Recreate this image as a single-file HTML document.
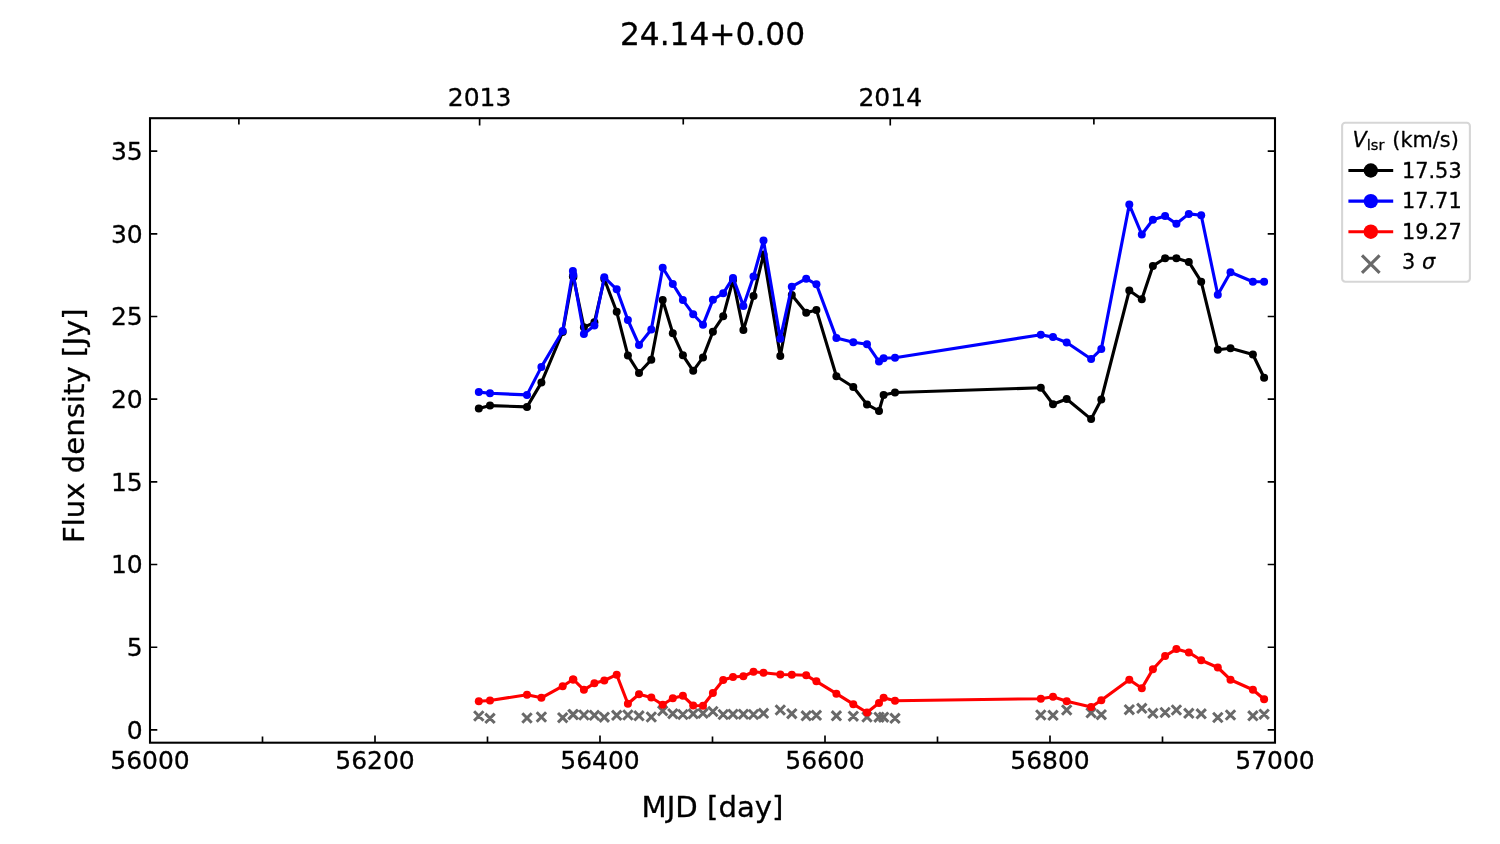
<!DOCTYPE html>
<html lang="en"><head><meta charset="utf-8"><title>24.14+0.00</title>
<style>html,body{margin:0;padding:0;background:#fff}body{width:1500px;height:844px;overflow:hidden}svg{display:block}text{font-family:"DejaVu Sans","Liberation Sans",sans-serif;fill:#000;stroke:#000;stroke-width:0.3px;stroke-linejoin:round}</style>
</head><body>
<svg width="1500" height="844" viewBox="0 0 1500 844">
<rect x="0" y="0" width="1500" height="844" fill="#ffffff"/>
<path d="M474.1 711.3L483.5 720.7M474.1 720.7L483.5 711.3M485.3 713.6L494.7 723.0M485.3 723.0L494.7 713.6M522.3 713.3L531.7 722.7M522.3 722.7L531.7 713.3M536.7 712.3L546.1 721.7M536.7 721.7L546.1 712.3M558.0 713.0L567.4 722.4M558.0 722.4L567.4 713.0M568.2 709.8L577.6 719.2M568.2 719.2L577.6 709.8M568.7 709.8L578.1 719.2M568.7 719.2L578.1 709.8M579.2 710.3L588.6 719.7M579.2 719.7L588.6 710.3M589.7 710.6L599.1 720.0M589.7 720.0L599.1 710.6M599.6 712.5L609.0 721.9M599.6 721.9L609.0 712.5M612.0 710.6L621.4 720.0M612.0 720.0L621.4 710.6M623.2 710.3L632.6 719.7M623.2 719.7L632.6 710.3M634.3 711.1L643.7 720.5M634.3 720.5L643.7 711.1M646.6 712.3L656.0 721.7M646.6 721.7L656.0 712.3M658.0 706.1L667.4 715.5M658.0 715.5L667.4 706.1M668.1 709.0L677.5 718.4M668.1 718.4L677.5 709.0M678.2 709.8L687.6 719.2M678.2 719.2L687.6 709.8M688.5 709.1L697.9 718.5M688.5 718.5L697.9 709.1M698.3 708.6L707.7 718.0M698.3 718.0L707.7 708.6M708.2 706.8L717.6 716.2M708.2 716.2L717.6 706.8M718.5 709.8L727.9 719.2M718.5 719.2L727.9 709.8M728.3 709.5L737.7 718.9M728.3 718.9L737.7 709.5M738.7 709.5L748.1 718.9M738.7 718.9L748.1 709.5M748.8 709.8L758.2 719.2M748.8 719.2L758.2 709.8M758.8 708.6L768.2 718.0M758.8 718.0L768.2 708.6M775.6 705.3L785.0 714.7M775.6 714.7L785.0 705.3M787.1 709.0L796.5 718.4M787.1 718.4L796.5 709.0M801.5 711.1L810.9 720.5M801.5 720.5L810.9 711.1M811.7 710.6L821.1 720.0M811.7 720.0L821.1 710.6M831.7 711.1L841.1 720.5M831.7 720.5L841.1 711.1M848.6 711.5L858.0 720.9M848.6 720.9L858.0 711.5M862.3 712.3L871.7 721.7M862.3 721.7L871.7 712.3M874.3 712.5L883.7 721.9M874.3 721.9L883.7 712.5M878.9 712.5L888.3 721.9M878.9 721.9L888.3 712.5M890.3 713.6L899.7 723.0M890.3 723.0L899.7 713.6M1036.1 710.3L1045.5 719.7M1036.1 719.7L1045.5 710.3M1048.3 710.6L1057.7 720.0M1048.3 720.0L1057.7 710.6M1062.0 705.3L1071.4 714.7M1062.0 714.7L1071.4 705.3M1086.4 708.1L1095.8 717.5M1086.4 717.5L1095.8 708.1M1096.6 710.0L1106.0 719.4M1096.6 719.4L1106.0 710.0M1124.6 705.0L1134.0 714.4M1124.6 714.4L1134.0 705.0M1137.1 703.6L1146.5 713.0M1137.1 713.0L1146.5 703.6M1148.2 708.6L1157.6 718.0M1148.2 718.0L1157.6 708.6M1160.4 707.8L1169.8 717.2M1160.4 717.2L1169.8 707.8M1171.7 705.3L1181.1 714.7M1171.7 714.7L1181.1 705.3M1184.1 708.6L1193.5 718.0M1184.1 718.0L1193.5 708.6M1196.5 709.1L1205.9 718.5M1196.5 718.5L1205.9 709.1M1213.1 712.8L1222.5 722.2M1213.1 722.2L1222.5 712.8M1225.8 710.3L1235.2 719.7M1225.8 719.7L1235.2 710.3M1248.2 711.1L1257.6 720.5M1248.2 720.5L1257.6 711.1M1259.4 709.5L1268.8 718.9M1259.4 718.9L1268.8 709.5" fill="none" stroke="#696969" stroke-width="3.0"/>
<g fill="#000000" stroke="#000000">
<polyline points="478.8,408.5 490.0,405.6 527.0,406.9 541.4,382.6 562.7,332.0 572.9,276.3 573.4,276.9 583.9,327.3 594.4,322.3 604.3,279.0 616.7,311.8 627.9,355.4 639.0,373.0 651.3,359.8 662.7,300.0 672.8,333.2 682.9,355.3 693.2,370.8 703.0,357.4 712.9,331.7 723.2,316.3 733.0,280.0 743.4,330.1 753.5,296.0 763.5,254.5 780.3,356.0 791.8,295.0 806.2,312.7 816.4,309.9 836.4,376.2 853.3,387.0 867.0,404.4 879.0,411.0 883.6,395.1 895.0,392.5 1040.8,387.8 1053.0,404.3 1066.7,399.0 1091.1,419.1 1101.3,399.5 1129.3,290.5 1141.8,299.3 1152.9,265.9 1165.1,258.2 1176.4,258.2 1188.8,261.9 1201.2,281.7 1217.8,349.7 1230.5,348.3 1252.9,354.5 1264.1,377.7" fill="none" stroke-width="3.125" stroke-linejoin="round" stroke-linecap="butt"/>
<g stroke="none"><circle cx="478.8" cy="408.5" r="4.0"/><circle cx="490.0" cy="405.6" r="4.0"/><circle cx="527.0" cy="406.9" r="4.0"/><circle cx="541.4" cy="382.6" r="4.0"/><circle cx="562.7" cy="332.0" r="4.0"/><circle cx="572.9" cy="276.3" r="4.0"/><circle cx="573.4" cy="276.9" r="4.0"/><circle cx="583.9" cy="327.3" r="4.0"/><circle cx="594.4" cy="322.3" r="4.0"/><circle cx="604.3" cy="279.0" r="4.0"/><circle cx="616.7" cy="311.8" r="4.0"/><circle cx="627.9" cy="355.4" r="4.0"/><circle cx="639.0" cy="373.0" r="4.0"/><circle cx="651.3" cy="359.8" r="4.0"/><circle cx="662.7" cy="300.0" r="4.0"/><circle cx="672.8" cy="333.2" r="4.0"/><circle cx="682.9" cy="355.3" r="4.0"/><circle cx="693.2" cy="370.8" r="4.0"/><circle cx="703.0" cy="357.4" r="4.0"/><circle cx="712.9" cy="331.7" r="4.0"/><circle cx="723.2" cy="316.3" r="4.0"/><circle cx="733.0" cy="280.0" r="4.0"/><circle cx="743.4" cy="330.1" r="4.0"/><circle cx="753.5" cy="296.0" r="4.0"/><circle cx="763.5" cy="254.5" r="4.0"/><circle cx="780.3" cy="356.0" r="4.0"/><circle cx="791.8" cy="295.0" r="4.0"/><circle cx="806.2" cy="312.7" r="4.0"/><circle cx="816.4" cy="309.9" r="4.0"/><circle cx="836.4" cy="376.2" r="4.0"/><circle cx="853.3" cy="387.0" r="4.0"/><circle cx="867.0" cy="404.4" r="4.0"/><circle cx="879.0" cy="411.0" r="4.0"/><circle cx="883.6" cy="395.1" r="4.0"/><circle cx="895.0" cy="392.5" r="4.0"/><circle cx="1040.8" cy="387.8" r="4.0"/><circle cx="1053.0" cy="404.3" r="4.0"/><circle cx="1066.7" cy="399.0" r="4.0"/><circle cx="1091.1" cy="419.1" r="4.0"/><circle cx="1101.3" cy="399.5" r="4.0"/><circle cx="1129.3" cy="290.5" r="4.0"/><circle cx="1141.8" cy="299.3" r="4.0"/><circle cx="1152.9" cy="265.9" r="4.0"/><circle cx="1165.1" cy="258.2" r="4.0"/><circle cx="1176.4" cy="258.2" r="4.0"/><circle cx="1188.8" cy="261.9" r="4.0"/><circle cx="1201.2" cy="281.7" r="4.0"/><circle cx="1217.8" cy="349.7" r="4.0"/><circle cx="1230.5" cy="348.3" r="4.0"/><circle cx="1252.9" cy="354.5" r="4.0"/><circle cx="1264.1" cy="377.7" r="4.0"/></g>
</g>
<g fill="#0000ff" stroke="#0000ff">
<polyline points="478.8,392.1 490.0,393.3 527.0,394.9 541.4,366.9 562.7,331.0 572.9,270.9 573.4,274.9 583.9,334.0 594.4,325.5 604.3,277.3 616.7,289.3 627.9,320.0 639.0,345.0 651.3,329.6 662.7,267.7 672.8,284.0 682.9,300.1 693.2,314.2 703.0,324.8 712.9,299.8 723.2,293.3 733.0,277.9 743.4,305.9 753.5,276.5 763.5,240.5 780.3,338.7 791.8,286.7 806.2,278.7 816.4,284.3 836.4,338.1 853.3,342.2 867.0,344.2 879.0,361.6 883.6,358.2 895.0,357.7 1040.8,334.7 1053.0,337.1 1066.7,342.5 1091.1,359.0 1101.3,349.1 1129.3,204.6 1141.8,234.5 1152.9,219.8 1165.1,216.1 1176.4,223.8 1188.8,213.9 1201.2,215.3 1217.8,294.7 1230.5,272.3 1252.9,281.7 1264.1,281.7" fill="none" stroke-width="3.125" stroke-linejoin="round" stroke-linecap="butt"/>
<g stroke="none"><circle cx="478.8" cy="392.1" r="4.0"/><circle cx="490.0" cy="393.3" r="4.0"/><circle cx="527.0" cy="394.9" r="4.0"/><circle cx="541.4" cy="366.9" r="4.0"/><circle cx="562.7" cy="331.0" r="4.0"/><circle cx="572.9" cy="270.9" r="4.0"/><circle cx="573.4" cy="274.9" r="4.0"/><circle cx="583.9" cy="334.0" r="4.0"/><circle cx="594.4" cy="325.5" r="4.0"/><circle cx="604.3" cy="277.3" r="4.0"/><circle cx="616.7" cy="289.3" r="4.0"/><circle cx="627.9" cy="320.0" r="4.0"/><circle cx="639.0" cy="345.0" r="4.0"/><circle cx="651.3" cy="329.6" r="4.0"/><circle cx="662.7" cy="267.7" r="4.0"/><circle cx="672.8" cy="284.0" r="4.0"/><circle cx="682.9" cy="300.1" r="4.0"/><circle cx="693.2" cy="314.2" r="4.0"/><circle cx="703.0" cy="324.8" r="4.0"/><circle cx="712.9" cy="299.8" r="4.0"/><circle cx="723.2" cy="293.3" r="4.0"/><circle cx="733.0" cy="277.9" r="4.0"/><circle cx="743.4" cy="305.9" r="4.0"/><circle cx="753.5" cy="276.5" r="4.0"/><circle cx="763.5" cy="240.5" r="4.0"/><circle cx="780.3" cy="338.7" r="4.0"/><circle cx="791.8" cy="286.7" r="4.0"/><circle cx="806.2" cy="278.7" r="4.0"/><circle cx="816.4" cy="284.3" r="4.0"/><circle cx="836.4" cy="338.1" r="4.0"/><circle cx="853.3" cy="342.2" r="4.0"/><circle cx="867.0" cy="344.2" r="4.0"/><circle cx="879.0" cy="361.6" r="4.0"/><circle cx="883.6" cy="358.2" r="4.0"/><circle cx="895.0" cy="357.7" r="4.0"/><circle cx="1040.8" cy="334.7" r="4.0"/><circle cx="1053.0" cy="337.1" r="4.0"/><circle cx="1066.7" cy="342.5" r="4.0"/><circle cx="1091.1" cy="359.0" r="4.0"/><circle cx="1101.3" cy="349.1" r="4.0"/><circle cx="1129.3" cy="204.6" r="4.0"/><circle cx="1141.8" cy="234.5" r="4.0"/><circle cx="1152.9" cy="219.8" r="4.0"/><circle cx="1165.1" cy="216.1" r="4.0"/><circle cx="1176.4" cy="223.8" r="4.0"/><circle cx="1188.8" cy="213.9" r="4.0"/><circle cx="1201.2" cy="215.3" r="4.0"/><circle cx="1217.8" cy="294.7" r="4.0"/><circle cx="1230.5" cy="272.3" r="4.0"/><circle cx="1252.9" cy="281.7" r="4.0"/><circle cx="1264.1" cy="281.7" r="4.0"/></g>
</g>
<g fill="#ff0000" stroke="#ff0000">
<polyline points="478.8,701.2 490.0,700.5 527.0,694.8 541.4,697.8 562.7,686.2 572.9,679.5 573.4,679.5 583.9,689.8 594.4,683.3 604.3,680.5 616.7,674.7 627.9,703.7 639.0,694.2 651.3,697.5 662.7,704.8 672.8,698.3 682.9,695.8 693.2,705.5 703.0,705.8 712.9,693.0 723.2,680.0 733.0,677.0 743.4,676.2 753.5,671.7 763.5,672.8 780.3,674.5 791.8,674.7 806.2,675.3 816.4,681.3 836.4,693.7 853.3,704.2 867.0,712.5 879.0,703.0 883.6,697.8 895.0,700.8 1040.8,698.7 1053.0,696.7 1066.7,701.3 1091.1,707.0 1101.3,700.3 1129.3,679.7 1141.8,688.3 1152.9,669.2 1165.1,656.0 1176.4,649.1 1188.8,652.4 1201.2,660.3 1217.8,667.5 1230.5,679.7 1252.9,689.7 1264.1,699.2" fill="none" stroke-width="3.125" stroke-linejoin="round" stroke-linecap="butt"/>
<g stroke="none"><circle cx="478.8" cy="701.2" r="4.0"/><circle cx="490.0" cy="700.5" r="4.0"/><circle cx="527.0" cy="694.8" r="4.0"/><circle cx="541.4" cy="697.8" r="4.0"/><circle cx="562.7" cy="686.2" r="4.0"/><circle cx="572.9" cy="679.5" r="4.0"/><circle cx="573.4" cy="679.5" r="4.0"/><circle cx="583.9" cy="689.8" r="4.0"/><circle cx="594.4" cy="683.3" r="4.0"/><circle cx="604.3" cy="680.5" r="4.0"/><circle cx="616.7" cy="674.7" r="4.0"/><circle cx="627.9" cy="703.7" r="4.0"/><circle cx="639.0" cy="694.2" r="4.0"/><circle cx="651.3" cy="697.5" r="4.0"/><circle cx="662.7" cy="704.8" r="4.0"/><circle cx="672.8" cy="698.3" r="4.0"/><circle cx="682.9" cy="695.8" r="4.0"/><circle cx="693.2" cy="705.5" r="4.0"/><circle cx="703.0" cy="705.8" r="4.0"/><circle cx="712.9" cy="693.0" r="4.0"/><circle cx="723.2" cy="680.0" r="4.0"/><circle cx="733.0" cy="677.0" r="4.0"/><circle cx="743.4" cy="676.2" r="4.0"/><circle cx="753.5" cy="671.7" r="4.0"/><circle cx="763.5" cy="672.8" r="4.0"/><circle cx="780.3" cy="674.5" r="4.0"/><circle cx="791.8" cy="674.7" r="4.0"/><circle cx="806.2" cy="675.3" r="4.0"/><circle cx="816.4" cy="681.3" r="4.0"/><circle cx="836.4" cy="693.7" r="4.0"/><circle cx="853.3" cy="704.2" r="4.0"/><circle cx="867.0" cy="712.5" r="4.0"/><circle cx="879.0" cy="703.0" r="4.0"/><circle cx="883.6" cy="697.8" r="4.0"/><circle cx="895.0" cy="700.8" r="4.0"/><circle cx="1040.8" cy="698.7" r="4.0"/><circle cx="1053.0" cy="696.7" r="4.0"/><circle cx="1066.7" cy="701.3" r="4.0"/><circle cx="1091.1" cy="707.0" r="4.0"/><circle cx="1101.3" cy="700.3" r="4.0"/><circle cx="1129.3" cy="679.7" r="4.0"/><circle cx="1141.8" cy="688.3" r="4.0"/><circle cx="1152.9" cy="669.2" r="4.0"/><circle cx="1165.1" cy="656.0" r="4.0"/><circle cx="1176.4" cy="649.1" r="4.0"/><circle cx="1188.8" cy="652.4" r="4.0"/><circle cx="1201.2" cy="660.3" r="4.0"/><circle cx="1217.8" cy="667.5" r="4.0"/><circle cx="1230.5" cy="679.7" r="4.0"/><circle cx="1252.9" cy="689.7" r="4.0"/><circle cx="1264.1" cy="699.2" r="4.0"/></g>
</g>
<path d="M150.00 742.7V735.4M375.00 742.7V735.4M600.00 742.7V735.4M825.00 742.7V735.4M1050.00 742.7V735.4M1275.00 742.7V735.4M262.50 742.7V736.45M487.50 742.7V736.45M712.50 742.7V736.45M937.50 742.7V736.45M1162.50 742.7V736.45M479.62 118.2V125.5M890.25 118.2V125.5M238.88 118.2V124.45M683.25 118.2V124.45M1093.88 118.2V124.45M150.0 729.90H157.3M1275.0 729.90H1267.7M150.0 647.21H157.3M1275.0 647.21H1267.7M150.0 564.53H157.3M1275.0 564.53H1267.7M150.0 481.85H157.3M1275.0 481.85H1267.7M150.0 399.16H157.3M1275.0 399.16H1267.7M150.0 316.48H157.3M1275.0 316.48H1267.7M150.0 233.79H157.3M1275.0 233.79H1267.7M150.0 151.11H157.3M1275.0 151.11H1267.7" fill="none" stroke="#000" stroke-width="1.67"/>
<rect x="150.0" y="118.2" width="1125.0" height="624.5" fill="none" stroke="#000" stroke-width="2.08" stroke-linejoin="miter"/>
<g font-size="25px" text-anchor="middle">
<text x="150.00" y="769.3">56000</text>
<text x="375.00" y="769.3">56200</text>
<text x="600.00" y="769.3">56400</text>
<text x="825.00" y="769.3">56600</text>
<text x="1050.00" y="769.3">56800</text>
<text x="1275.00" y="769.3">57000</text>
<text x="479.62" y="105.6">2013</text>
<text x="890.25" y="105.6">2014</text>
</g>
<g font-size="25px" text-anchor="end">
<text x="142.7" y="738.7">0</text>
<text x="142.7" y="656.0">5</text>
<text x="142.7" y="573.3">10</text>
<text x="142.7" y="490.6">15</text>
<text x="142.7" y="408.0">20</text>
<text x="142.7" y="325.3">25</text>
<text x="142.7" y="242.6">30</text>
<text x="142.7" y="159.9">35</text>
</g>
<text x="712.5" y="45" font-size="31.25px" text-anchor="middle">24.14+0.00</text>
<text x="712.5" y="817" font-size="29.17px" text-anchor="middle">MJD [day]</text>
<text transform="translate(84.3,425.7) rotate(-90)" font-size="29.17px" text-anchor="middle">Flux density [Jy]</text>
<rect x="1342.1" y="122.7" width="127.8" height="159" rx="3.2" ry="3.2" fill="#ffffff" fill-opacity="0.8" stroke="#cccccc" stroke-opacity="0.8" stroke-width="2.08"/>
<g font-size="20.83px">
<text x="1352.5" y="146.5"><tspan font-style="oblique">V</tspan><tspan font-size="14.58px" dy="3.3">lsr</tspan><tspan x="1385.7" dy="-3.3"> (km/s)</tspan></text>
<path d="M1348.4 170.5H1393.2" stroke="#000000" stroke-width="3.125" fill="none"/><circle cx="1370.8" cy="170.5" r="7.2" fill="#000000"/>
<text x="1402" y="177.7">17.53</text>
<path d="M1348.4 201.1H1393.2" stroke="#0000ff" stroke-width="3.125" fill="none"/><circle cx="1370.8" cy="201.1" r="7.2" fill="#0000ff"/>
<text x="1402" y="208.0">17.71</text>
<path d="M1348.4 231.7H1393.2" stroke="#ff0000" stroke-width="3.125" fill="none"/><circle cx="1370.8" cy="231.7" r="7.2" fill="#ff0000"/>
<text x="1402" y="238.8">19.27</text>
<path d="M1362.00 255.30L1379.60 272.90M1362.00 272.90L1379.60 255.30" stroke="#696969" stroke-width="3.1" fill="none"/>
<text x="1402" y="268.5">3 <tspan font-style="oblique">σ</tspan></text>
</g>
</svg>
</body></html>
